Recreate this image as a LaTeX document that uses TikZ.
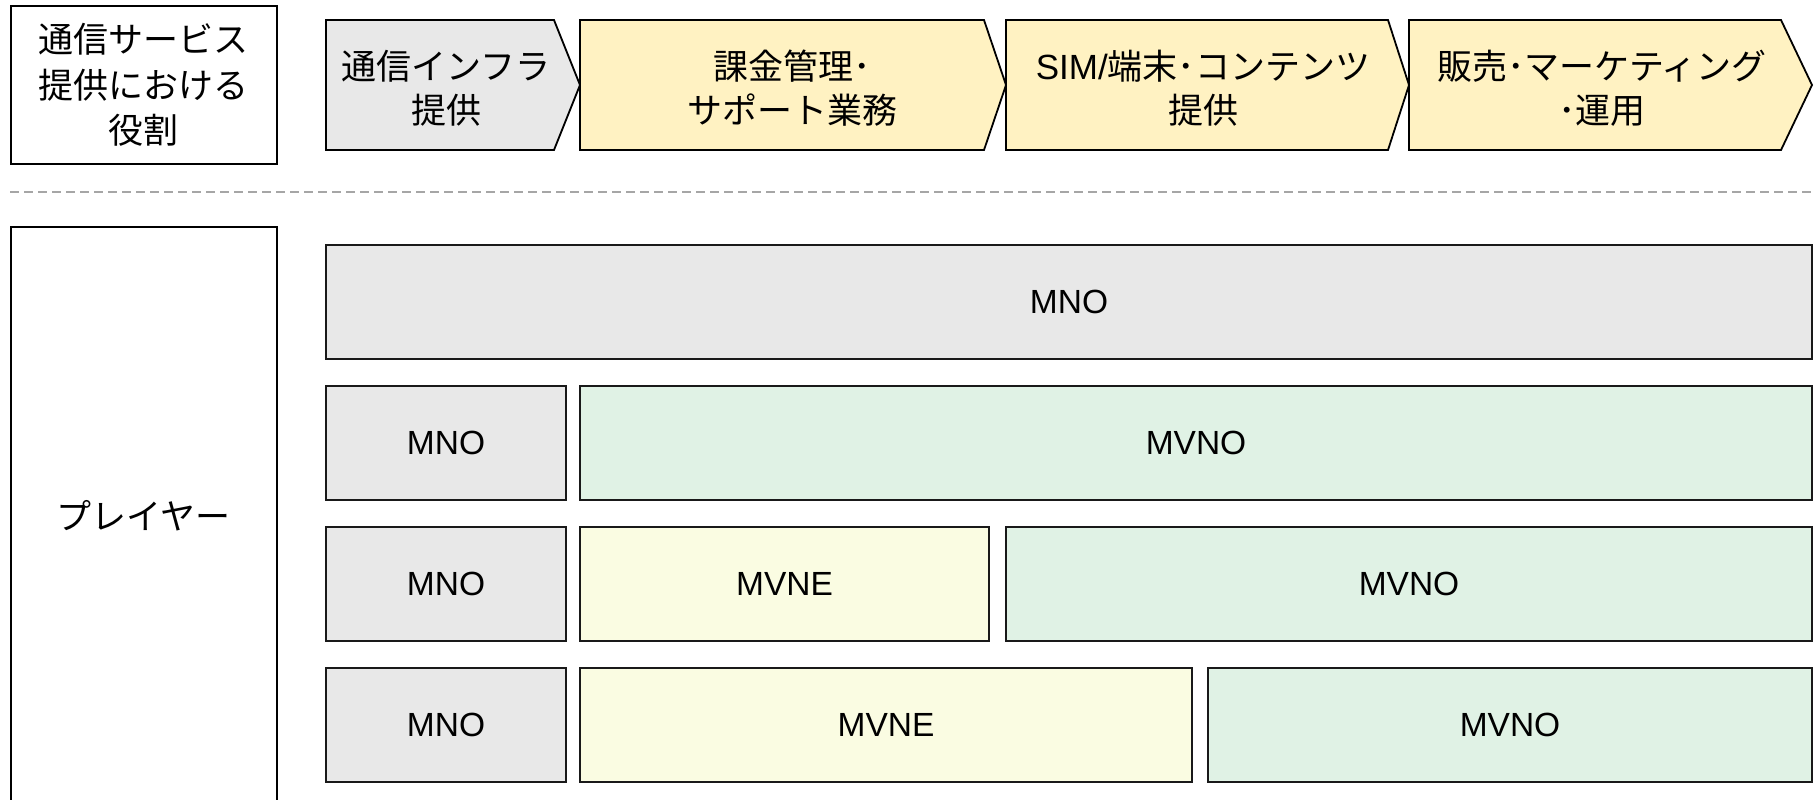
\documentclass[tikz,border=0pt]{standalone}
\usepackage{fontspec}
\setmainfont{Noto Sans CJK JP}
\newfontfamily\lat{Liberation Sans}
\definecolor{grayfill}{HTML}{E8E8E8}
\definecolor{chevfill}{HTML}{FFF2C2}
\definecolor{mvnefill}{HTML}{FAFCE2}
\definecolor{mvnofill}{HTML}{E0F2E5}
\definecolor{sepgray}{HTML}{A6A6A6}
\tikzset{
  jp/.style={font=\fontsize{17.5pt}{22pt}\selectfont, align=center},
  la/.style={font=\lat\fontsize{16.75pt}{20pt}\selectfont},
  headbox/.style={draw=black, line width=1pt, fill=white, inner sep=0pt, align=center,
    font=\fontsize{17.5pt}{22.8pt}\selectfont},
  chev/.style={draw=black, line width=0.9pt, line join=miter},
  cell/.style={draw=black!90, line width=1pt, inner sep=0pt, minimum height=57pt, la},
  mno/.style={cell, fill=grayfill},
  mvne/.style={cell, fill=mvnefill},
  mvno/.style={cell, fill=mvnofill},
  sepline/.style={draw=sepgray, line width=1pt, dash pattern=on 4.5pt off 2.5pt}
}
\begin{document}
\begin{tikzpicture}[x=0.5pt,y=-0.5pt]
\useasboundingbox (0,0) rectangle (1814,799);
\fill[white] (0,0) rectangle (1814,799);

% left header boxes
\node[headbox, minimum width=133pt, minimum height=79.25pt] (role) at (143.5,85)
  {通信サービス\\提供における\\役割};
\node[headbox, minimum width=133pt, minimum height=289.2pt] (player) at (143.5,516)
  {プレイヤー};

% chevrons
\fill[grayfill] (326,20) -- (554,20) -- (580,85) -- (554,150) -- (326,150) -- cycle;
\draw[chev] (326,20) -- (554,20) -- (580,85) -- (554,150) -- (326,150) -- cycle;
\fill[chevfill] (580,20) -- (984,20) -- (1006,85) -- (984,150) -- (580,150) -- cycle;
\draw[chev] (580,20) -- (984,20) -- (1006,85) -- (984,150) -- (580,150) -- cycle;
\fill[chevfill] (1006,20) -- (1388,20) -- (1409,85) -- (1388,150) -- (1006,150) -- cycle;
\draw[chev] (1006,20) -- (1388,20) -- (1409,85) -- (1388,150) -- (1006,150) -- cycle;
\fill[chevfill] (1409,20) -- (1781,20) -- (1812,85) -- (1781,150) -- (1409,150) -- cycle;
\draw[chev] (1409,20) -- (1781,20) -- (1812,85) -- (1781,150) -- (1409,150) -- cycle;

\node[jp] (t1) at (446,88) {通信インフラ\\提供};
\node[jp] (t2) at (792,88) {課金管理･\\サポート業務};
\node[jp] (t3) at (1203,88) {{\lat SIM/}端末･コンテンツ\\提供};
\node[jp] (t4) at (1602,88) {販売･マーケティング\\･運用};

% separator
\coordinate (sepL) at (10,192);
\coordinate (sepR) at (1812,192);
\draw[sepline] (sepL) -- (sepR);

% rows
\node[mno, minimum width=743pt] (r1mno) at (1069,302) {MNO};

\node[mno, minimum width=120pt] (r2mno) at (446,443) {MNO};
\node[mvno, minimum width=616pt] (r2mvno) at (1196,443) {MVNO};

\node[mno, minimum width=120pt] (r3mno) at (446,584) {MNO};
\node[mvne, minimum width=204.5pt] (r3mvne) at (784.5,584) {MVNE};
\node[mvno, minimum width=403pt] (r3mvno) at (1409,584) {MVNO};

\node[mno, minimum width=120pt] (r4mno) at (446,725) {MNO};
\node[mvne, minimum width=306pt] (r4mvne) at (886,725) {MVNE};
\node[mvno, minimum width=302pt] (r4mvno) at (1510,725) {MVNO};
\end{tikzpicture}
\end{document}
